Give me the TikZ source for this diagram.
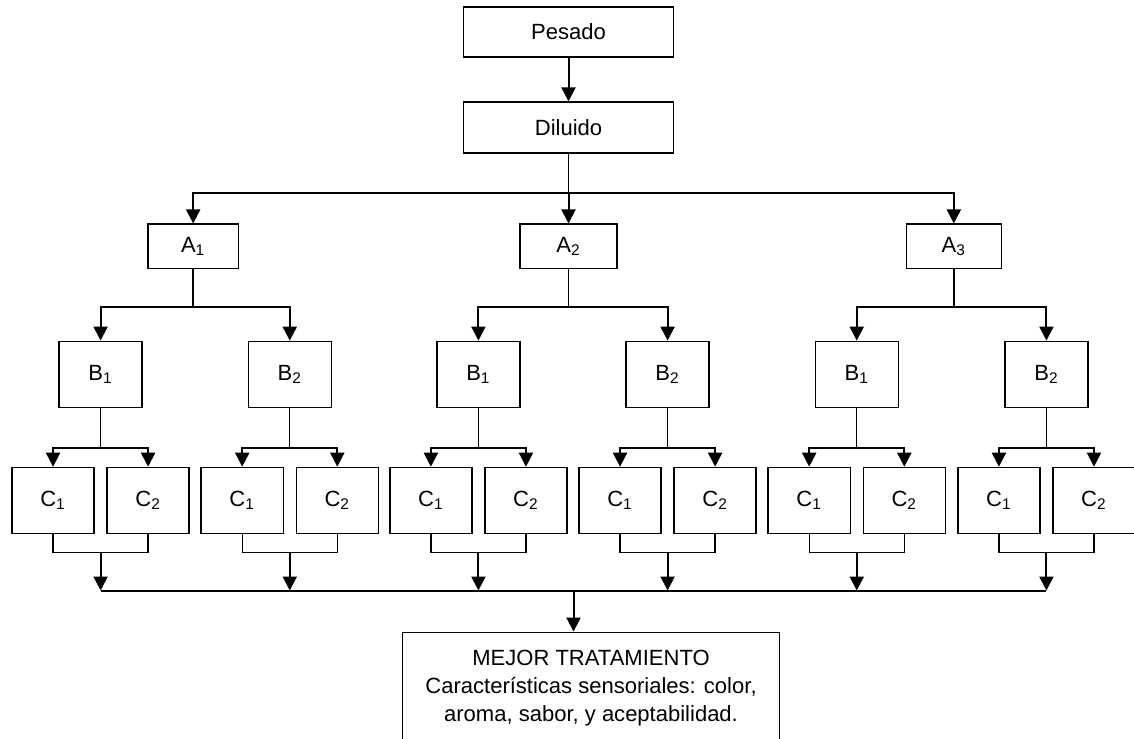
\documentclass[tikz,border=0pt]{standalone}
\usepackage{fontspec}
\setmainfont{Liberation Sans}
\usetikzlibrary{arrows.meta,calc}

\begin{document}
\begin{tikzpicture}[x=0.5pt,y=-0.5pt,font=\fontsize{11}{14}\selectfont,
   bx/.style={draw,line width=0.7pt,inner sep=0pt},
   ln/.style={line width=0.7pt},
   arr/.style={line width=1pt,-{Triangle[width=7pt,length=7pt]}}]
\useasboundingbox (0,0) rectangle (1133,738);
%% ---- top: weighing and dilution ----
\node[bx,minimum width=105pt,minimum height=25pt] (pes) at (568,32) {Pesado};
\node[bx,minimum width=105pt,minimum height=25.5pt] (dil) at (568,127.5) {Diluido};
\draw[arr] (pes) -- (dil);
\coordinate (jA) at (568,193);
\draw[ln] (dil) -- (jA);
%% ---- three branches A -> B -> C ----
\foreach \i/\ax/\aw/\bl/\br in {1/193/45/100.5/289.5, 2/568/48.5/478/667, 3/953/47.5/856/1045.5} {
  \node[bx,minimum width=\aw pt,minimum height=22pt] (A\i) at (\ax,246) {A\textsubscript{\i}};
  \draw[arr] (jA) -| (A\i.north);
  \coordinate (jB\i) at (\ax,307);
  \draw[ln] (A\i) -- (jB\i);
  \foreach \j/\bx in {1/\bl,2/\br} {
    \node[bx,minimum width=41.5pt,minimum height=33pt] (B\i\j) at (\bx,374) {B\textsubscript{\j}};
    \draw[arr] (jB\i) -| (B\i\j.north);
    \coordinate (jC\i\j) at (\bx,448);
    \draw[ln] (B\i\j) -- (jC\i\j);
    \node[bx,minimum width=41pt,minimum height=33pt] (C\i\j1) at (\bx-47.5,500) {C\textsubscript{1}};
    \node[bx,minimum width=41pt,minimum height=33pt] (C\i\j2) at (\bx+47.5,500) {C\textsubscript{2}};
    \draw[arr] (jC\i\j) -| (C\i\j1.north);
    \draw[arr] (jC\i\j) -| (C\i\j2.north);
    % join the pair and carry it down to the collector
    \coordinate (m\i\j) at (\bx,552);
    \coordinate (k\i\j) at (\bx,590);
    \draw[ln] (C\i\j1.south) |- (m\i\j) -| (C\i\j2.south);
    \draw[arr] (m\i\j) -- (k\i\j);
  }
}
%% ---- collector and result ----
\draw[line width=1pt] (k11) -- (k32);
\node[bx,anchor=north,align=center,minimum width=188.5pt,inner ysep=9pt] (best) at (590.5,631)
  {MEJOR TRATAMIENTO\\Características sensoriales: color,\\aroma, sabor, y aceptabilidad.};
\coordinate (kF) at (573,590);
\draw[arr] (kF) -- (kF |- best.north);
\end{tikzpicture}
\end{document}
